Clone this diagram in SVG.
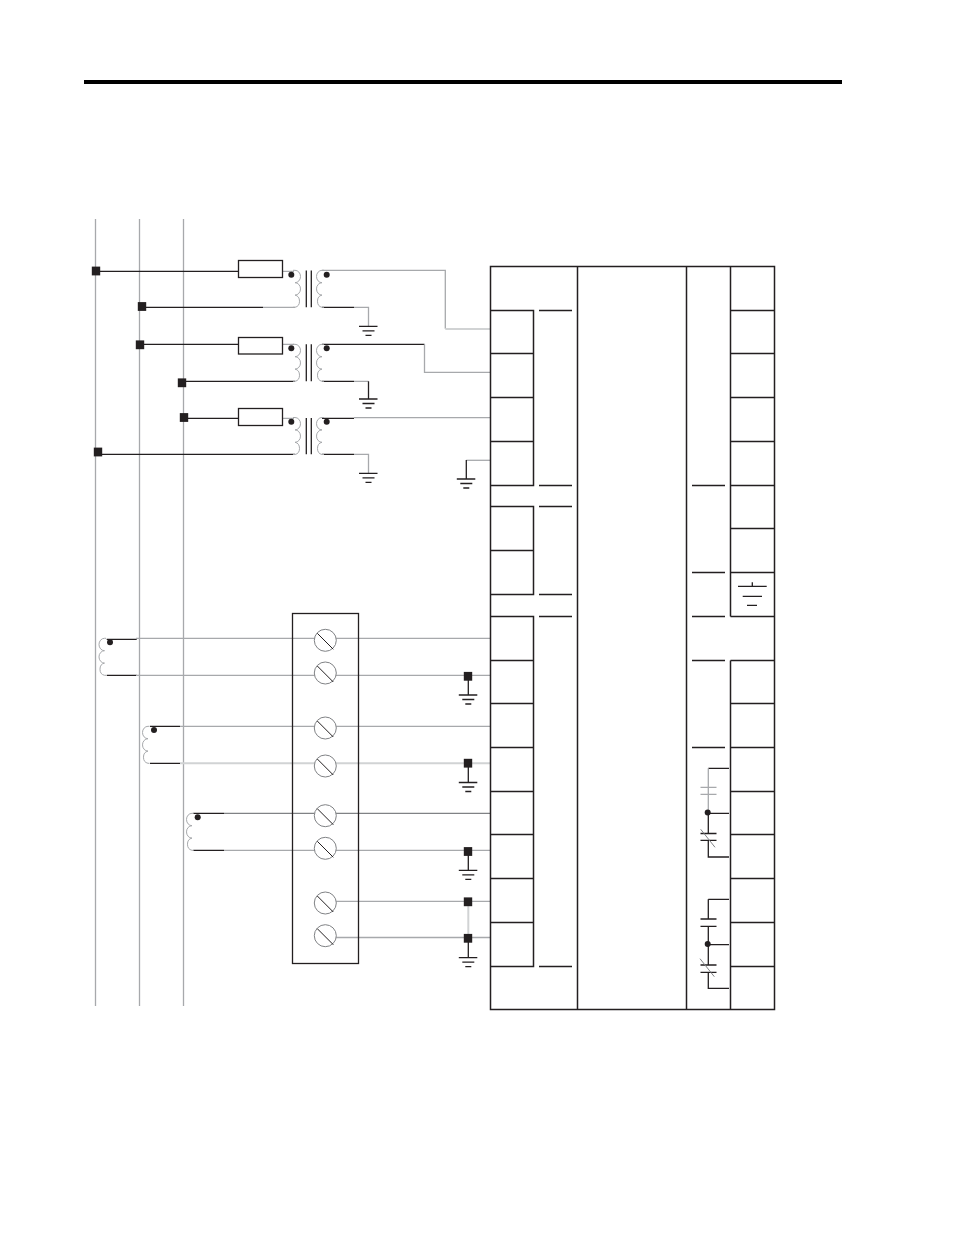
<svg xmlns="http://www.w3.org/2000/svg" width="954" height="1235" viewBox="0 0 954 1235">
<defs>
<style>
.k{stroke:#231f20;stroke-width:1.3;fill:none}
.g{stroke:#a7a9ac;stroke-width:1.3;fill:none}
.m{stroke:#808285;stroke-width:1.3;fill:none}
.l{stroke:#d1d3d4;stroke-width:2;fill:none}
.c{stroke:#a7a9ac;stroke-width:1;fill:none}
.s{fill:#231f20}
.b{fill:#fff;stroke:#231f20;stroke-width:1.3}
.scr{fill:#fff;stroke:#808285;stroke-width:1}
</style>
<g id="gnd"><path class="k" d="M-9.5 0H9M-6 4.5H6M-3 9H3"/></g>
<g id="pcoil"><path class="c" d="M-3 0H-1A5.5 6.2 0 0 1 -1 12.4A5.5 6.2 0 0 1 -1 24.8A5.5 6.2 0 0 1 -1 37H-3"/></g>
<g id="scoil"><path class="c" d="M7 0H5A5.5 6.2 0 0 0 5 12.4A5.5 6.2 0 0 0 5 24.8A5.5 6.2 0 0 0 5 37H7"/></g>
<g id="ctcoil"><path class="c" d="M7 0H5.5A5.5 6.2 0 0 0 5.5 12.4A5.5 6.2 0 0 0 5.5 24.8A5.5 6.2 0 0 0 5.5 37H7"/></g>
<g id="screw"><circle class="scr" r="11"/><path class="k" style="stroke-width:1" d="M-8 -7L8 9"/></g>
<rect id="sq" x="-4.2" y="-4.4" width="8.4" height="8.8" class="s"/>
</defs>
<rect width="954" height="1235" fill="#fff"/>
<rect id="header-rule" x="84" y="80" width="758" height="4" fill="#000"/>

<g id="connectors">
<path class="g" d="M95.5 219V1006M139.5 219V1006M183.5 219V1006"/>
<path class="k" d="M100 271.3H238M146 307.3H263M144 344.3H238M186 381.3H295M188 418.3H238M102 454.3H295"/>
<path class="g" d="M263 307.3H295M282 271.3H294M282 344.3H294M282 418.3H294"/>
<path class="k" d="M322 307.3H354M322 344.3H424.5M322 381.3H354M322 418.3H354M322 454.3H354"/>
<path class="g" d="M322 270.3H445.3V328.7"/>
<path class="l" d="M445.3 329H490"/>
<path class="g" d="M354 307.3H368.5V326M424.5 344.3V372.3H490M354 381.3H368.5M354 454.3H368.5V473"/>
<path class="k" d="M368.5 381.3V399"/>
<path class="g" d="M354 417.6H490"/>
<path class="g" d="M490 460.3H466.3"/>
<path class="k" d="M466.3 460V479"/>
<path class="k" d="M106.7 639.3H136.7M106.7 675.3H136.7M150 726.3H180M150 763.3H180M193.3 813.3H224M193.3 850.3H224"/>
<path class="g" d="M136 638.3H490M136 675.3H490M180 726.3H490"/>
<path class="l" d="M180 763.3H490"/>
<path class="m" d="M224 813.3H490"/>
<path class="g" d="M224 850.3H490M336 901.3H490M336 937.5H490"/>
<path class="l" d="M468.3 901.5V938"/>
<path class="k" d="M468.3 680V695M468.3 767V782.5M468.3 855V870.3M468.3 942V957.7"/>
<path class="k" d="M708.3 768.3H729M708.3 813.3H729"/>
<path class="g" d="M708.3 768.3V813"/>
<path class="k" d="M708.3 813V833.5M708.3 840.3V857H729M708.3 899.3H729M708.3 899.3V919M708.3 926.3V965M708.3 944.7H729M708.3 972.3V988.3H729"/>
</g>

<g id="panel">
<path class="k" style="stroke-width:1.5" d="M490.5 266.5H774.5V1009.5H490.5ZM577.5 266.5V1009.5M686.5 266.5V1009.5M730.5 266.5V616.5M730.5 660.5V1009.5"/>
<path class="k" style="stroke-width:1.5" d="M490.5 310.5H533.5V485.5H490.5M490.5 353.5H533.5M490.5 397.5H533.5M490.5 441.5H533.5M490.5 506.5H533.5V594.5H490.5M490.5 550.5H533.5M490.5 616.5H533.5V966.5H490.5M490.5 660.5H533.5M490.5 703.5H533.5M490.5 747.5H533.5M490.5 791.5H533.5M490.5 834.5H533.5M490.5 878.5H533.5M490.5 922.5H533.5"/>
<path class="k" style="stroke-width:1.5" d="M730.5 310.5H774.5M730.5 353.5H774.5M730.5 397.5H774.5M730.5 441.5H774.5M730.5 485.5H774.5M730.5 528.5H774.5M730.5 572.5H774.5M730.5 616.5H774.5M730.5 660.5H774.5M730.5 703.5H774.5M730.5 747.5H774.5M730.5 791.5H774.5M730.5 834.5H774.5M730.5 878.5H774.5M730.5 922.5H774.5M730.5 966.5H774.5"/>
<path class="k" style="stroke-width:1.5" d="M539 310.5H572M539 485.5H572M539 506.5H572M539 594.5H572M539 616.5H572M539 966.5H572M692 485.5H725M692 572.5H725M692 616.5H725M692 660.5H725M692 747.5H725"/>
<path class="k" d="M752.3 582.3V586.3M738 586.3H766.7M742.7 596.3H762M747 605.3H757"/>
</g>

<g id="transformer-1">
<rect class="b" x="238.5" y="260.5" width="44" height="17"/>
<use href="#pcoil" x="296" y="270.3"/><use href="#scoil" x="317" y="270.3"/>
<path class="k" d="M306.3 270.5V307.3M311.3 270.5V307.3"/>
<circle class="s" cx="291.3" cy="274.7" r="3"/><circle class="s" cx="326.7" cy="274.7" r="3"/>
<use href="#gnd" x="368.5" y="326.3"/>
</g>
<g id="transformer-2">
<rect class="b" x="238.5" y="337.5" width="44" height="16.5"/>
<use href="#pcoil" x="296" y="344.3"/><use href="#scoil" x="317" y="344.3"/>
<path class="k" d="M306.3 344.3V381.3M311.3 344.3V381.3"/>
<circle class="s" cx="291.3" cy="348.3" r="3"/><circle class="s" cx="326.7" cy="348.3" r="3"/>
<use href="#gnd" x="368.5" y="399"/>
</g>
<g id="transformer-3">
<rect class="b" x="238.5" y="408.5" width="44" height="17"/>
<use href="#pcoil" x="296" y="417.5"/><use href="#scoil" x="317" y="417.5"/>
<path class="k" d="M306.3 418V454.3M311.3 418V454.3"/>
<circle class="s" cx="291.3" cy="421.7" r="3"/><circle class="s" cx="326.7" cy="421.7" r="3"/>
<use href="#gnd" x="368.5" y="473.3"/>
</g>
<g id="voltage-taps">
<use href="#sq" x="96" y="271"/><use href="#sq" x="142" y="306.5"/><use href="#sq" x="140" y="344.8"/>
<use href="#sq" x="182" y="382.8"/><use href="#sq" x="184" y="417.5"/><use href="#sq" x="98" y="452"/>
</g>
<g id="ground-left"><use href="#gnd" x="466.3" y="479"/></g>

<g id="ct-1"><use href="#ctcoil" x="99" y="638.3"/><circle class="s" cx="110" cy="642.3" r="3"/></g>
<g id="ct-2"><use href="#ctcoil" x="142.5" y="726.3"/><circle class="s" cx="154" cy="730" r="3"/></g>
<g id="ct-3"><use href="#ctcoil" x="186.5" y="813.3"/><circle class="s" cx="197.7" cy="817.3" r="3"/></g>

<g id="terminal-block">
<rect x="292.5" y="613.5" width="66" height="350" fill="none" stroke="#231f20" stroke-width="1.3"/>
<use href="#screw" x="325.3" y="640.3"/><use href="#screw" x="325.3" y="673"/>
<use href="#screw" x="325.3" y="728"/><use href="#screw" x="325.3" y="766"/>
<use href="#screw" x="325.3" y="815.7"/><use href="#screw" x="325.3" y="848.3"/>
<use href="#screw" x="325.3" y="903"/><use href="#screw" x="325.3" y="935.7"/>
</g>

<g id="grounds-ct">
<use href="#sq" x="468" y="676.3"/><use href="#gnd" x="468.3" y="695"/>
<use href="#sq" x="468" y="763.2"/><use href="#gnd" x="468.3" y="782.5"/>
<use href="#sq" x="468" y="851.5"/><use href="#gnd" x="468.3" y="870.3"/>
<use href="#sq" x="468" y="901.8"/><use href="#sq" x="468" y="938.3"/><use href="#gnd" x="468.3" y="957.7"/>
</g>

<g id="contacts-1">
<path class="g" d="M700.5 787.3H716.5M700.5 794.3H716.5"/>
<circle class="s" cx="707.7" cy="812.5" r="3"/>
<path class="k" d="M700.5 833.5H716.5M700.5 840.3H716.5"/>
<path class="m" style="stroke-width:1" d="M700.7 829.3L715 847.3"/>
</g>
<g id="contacts-2">
<path class="k" d="M700.5 919H716.5M700.5 926.3H716.5"/>
<circle class="s" cx="707.7" cy="944" r="3"/>
<path class="k" d="M700.5 965H716.5M700.5 972.3H716.5"/>
<path class="m" style="stroke-width:1" d="M700 958.7L714.3 976.7"/>
</g>
</svg>
